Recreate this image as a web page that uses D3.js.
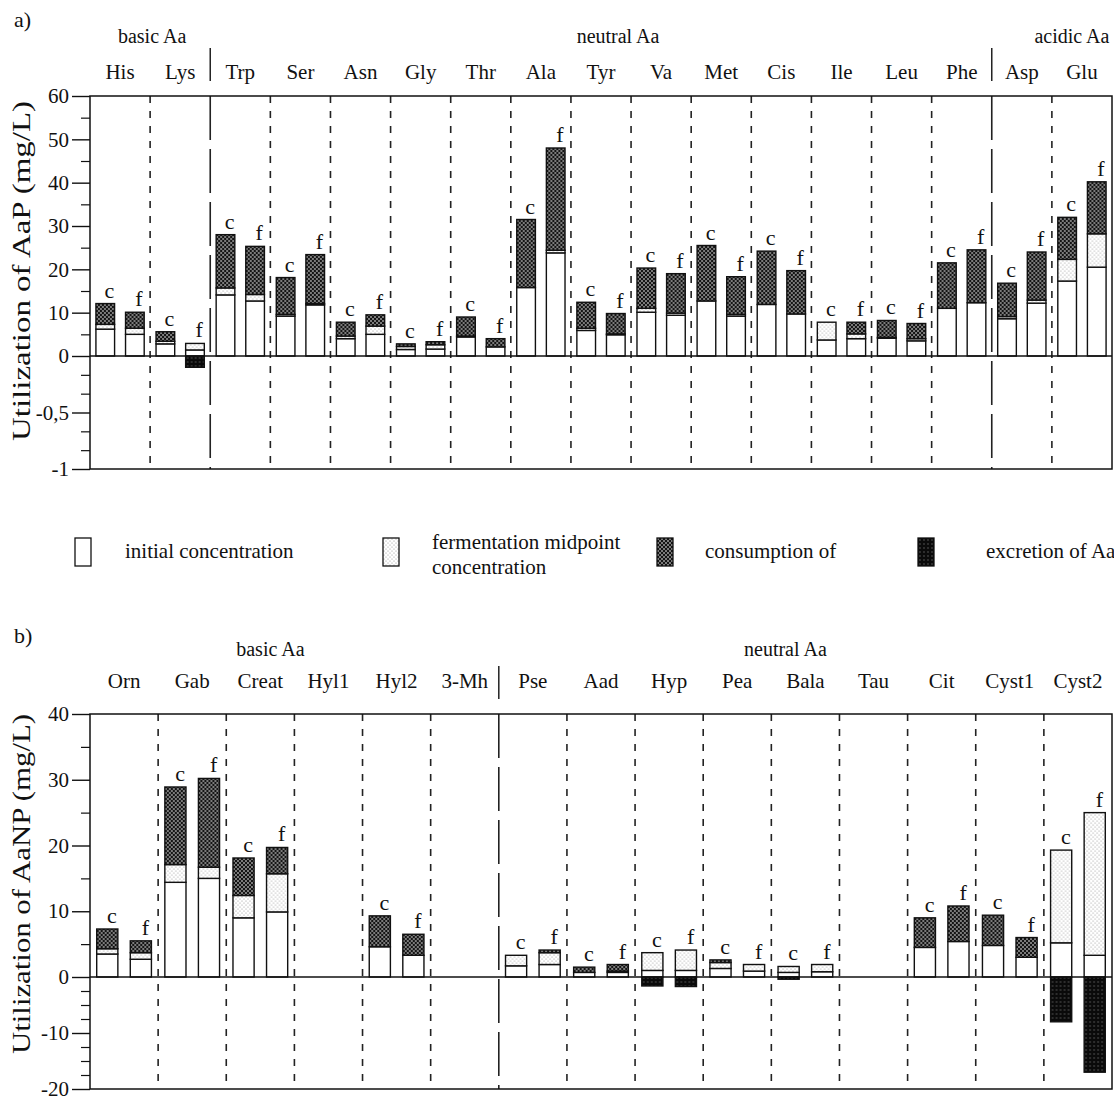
<!DOCTYPE html>
<html>
<head>
<meta charset="utf-8">
<script src="https://cdn.jsdelivr.net/npm/d3@7"></script>
<style>
body { margin:0; background:#fff; }
svg text { font-family:"Liberation Serif","Times New Roman",serif; fill:#111; }
</style>
</head>
<body>
<svg id="chart" width="1114" height="1101"></svg>
<script>
// ---------- datos panel a (pares [c, f]) ----------
var catsA = ["His","Lys","Trp","Ser","Asn","Gly","Thr","Ala","Tyr","Va","Met","Cis","Ile","Leu","Phe","Asp","Glu"];
var groupsA = ["basic Aa","neutral Aa","acidic Aa"];
var groupSizeA = [2, 13, 2];
var aInitial = [[6.2,5.0],[2.8,1.4],[14.1,12.7],[9.2,11.8],[4.0,5.0],[1.5,1.6],[4.4,2.1],[15.8,23.8],[5.9,4.9],[10.1,9.4],[12.7,9.2],[11.9,9.7],[3.7,4.0],[4.1,3.5],[11.0,12.3],[8.6,12.2],[17.3,20.5]];
var aMidpoint = [[1.1,1.4],[0.6,1.5],[1.6,1.5],[0.4,0.3],[0.6,1.9],[0.7,1.0],[0.2,0],[0,0.6],[0.5,0.2],[0.9,0.5],[0,0.4],[0,0],[4.1,1.1],[0.2,0.5],[0,0],[0.5,0.7],[5.0,7.7]];
var aConsumption = [[4.8,3.7],[2.2,0],[12.3,11.1],[8.5,11.3],[3.2,2.6],[0.6,0.7],[4.4,1.9],[15.7,23.6],[6.0,4.7],[9.3,9.1],[12.8,8.7],[12.3,10.0],[0,2.7],[3.9,3.5],[10.5,12.2],[7.7,11.1],[9.7,12.0]];
var aExcretion = [[0,0],[0,-0.1],[0,0],[0,0],[0,0],[0,0],[0,0],[0,0],[0,0],[0,0],[0,0],[0,0],[0,0],[0,0],[0,0],[0,0],[0,0]];
var aMajorTicks = [-1,-0.5,0,10,20,30,40,50,60];
var aMinorTicks = [-5/6,-4/6,-2/6,-1/6,5,15,25,35,45,55];

// ---------- datos panel b ----------
var catsB = ["Orn","Gab","Creat","Hyl1","Hyl2","3-Mh","Pse","Aad","Hyp","Pea","Bala","Tau","Cit","Cyst1","Cyst2"];
var groupsB = ["basic Aa","neutral Aa"];
var groupSizeB = [6, 9];
var bInitial = [[3.5,2.7],[14.4,15.0],[9.0,9.9],[0,0],[4.6,3.3],[0,0],[1.7,1.9],[0.7,0.7],[1.0,1.0],[1.3,0.9],[0.7,0.8],[0,0],[4.5,5.4],[4.8,3.0],[5.2,3.3]];
var bMidpoint = [[0.8,1.0],[2.7,1.7],[3.4,5.8],[0,0],[0,0],[0,0],[1.6,1.8],[0,0.2],[2.7,3.1],[0.9,1.0],[0.9,1.1],[0,0],[0,0],[0,0],[14.1,21.7]];
var bConsumption = [[3.0,1.8],[11.8,13.5],[5.7,4.0],[0,0],[4.7,3.2],[0,0],[0,0.4],[0.8,1.0],[0,0],[0.4,0],[0,0],[0,0],[4.5,5.4],[4.6,3.0],[0,0]];
var bExcretion = [[0,0],[0,0],[0,0],[0,0],[0,0],[0,0],[0,0],[0,0],[-1.6,-1.7],[0,0],[-0.4,0],[0,0],[0,0],[0,0],[-8.0,-17.0]];
var bMajorTicks = [-20,-10,0,10,20,30,40];
var bMinorTicks = [-17.5,-15,-12.5,-7.5,-5,-2.5,5,15,25,35];

var legendLabels = [["initial concentration"],["fermentation midpoint","concentration"],["consumption of"],["excretion of Aa"]];

var svg = d3.select("#chart");
var defs = svg.append("defs");

/******** patrones de relleno ********/
function pattern(id, bg, dots, r, col) {
  var p = defs.append("pattern").attr("id", id)
    .attr("patternUnits", "userSpaceOnUse").attr("width", 4).attr("height", 4);
  p.append("rect").attr("width", 4).attr("height", 4).attr("fill", bg);
  dots.forEach(function(d) {
    p.append("circle").attr("cx", d[0]).attr("cy", d[1]).attr("r", r).attr("fill", col);
  });
}
pattern("dots", "#fff", [[1,1],[3,3]], 0.55, "#8c8c8c");
pattern("hatch", "#141414", [[1,1],[3,3]], 0.8, "#fff");
pattern("excr", "#0a0a0a", [[2,2]], 0.7, "#6a6a6a");
var fills = ["#fff", "url(#dots)", "url(#hatch)", "url(#excr)"];

var left = 90, right = 1112;

function fmt(d) { return String(d).replace(".", ","); }

/******** dibujar un panel ********/
function drawPanel(p) {
  var g = svg.append("g");
  var x = d3.scaleBand().domain(p.cats).range([left, right]);
  var sub = d3.scaleBand().domain(["c","f"]).range([0, x.bandwidth()])
    .paddingInner(0.37).paddingOuter(0.2);
  var y = d3.scaleLinear().domain(p.yDomain).range(p.yRange);
  var top = y(p.yDomain[2]), bot = y(p.yDomain[0]), zero = y(0);

  // lineas divisorias
  var seps = [];
  var acc = 0;
  p.groupSize.forEach(function(n, i) {
    acc += n;
    if (i < p.groupSize.length - 1) seps.push(acc);
  });
  for (var i = 1; i < p.cats.length; i++) {
    var xx = x(p.cats[i]);
    var isSep = seps.indexOf(i) >= 0;
    g.append("line").attr("x1", xx).attr("x2", xx).attr("y1", top).attr("y2", bot)
      .attr("stroke", "#222").attr("stroke-width", 1.6)
      .attr("stroke-dasharray", isSep ? "44,9" : "7,8");
    if (isSep) {
      g.append("line").attr("x1", xx).attr("x2", xx).attr("y1", top - 48).attr("y2", top - 15)
        .attr("stroke", "#222").attr("stroke-width", 1.5);
    }
  }

  // barras
  var bars = [];
  p.cats.forEach(function(cat, i) {
    ["c","f"].forEach(function(k, j) {
      var a = p.init[i][j], m = p.mid[i][j], c = p.cons[i][j], e = p.exc[i][j];
      bars.push({cat: cat, k: k, total: a + m + c,
        segs: [[0, a], [a, a + m], [a + m, a + m + c], [e, 0]]});
    });
  });

  var bar = g.selectAll(".bar").data(bars).enter().append("g").attr("class", "bar")
    .attr("transform", function(d) { return "translate(" + (x(d.cat) + sub(d.k)) + ",0)"; });

  bar.selectAll("rect")
    .data(function(d) { return d.segs.map(function(s, i) { return {y0: s[0], y1: s[1], i: i}; })
      .filter(function(s) { return s.y1 - s.y0 > 0; }); })
    .enter().append("rect")
    .attr("x", 0)
    .attr("width", sub.bandwidth())
    .attr("y", function(s) { return y(s.y1); })
    .attr("height", function(s) { return y(s.y0) - y(s.y1); })
    .attr("fill", function(s) { return fills[s.i]; })
    .attr("stroke", "#111").attr("stroke-width", 1.4);

  bar.filter(function(d) { return d.total > 0; }).append("text")
    .attr("x", sub.bandwidth() * 0.72)
    .attr("y", function(d) { return y(d.total) - 6; })
    .attr("text-anchor", "middle")
    .style("font-size", "22px")
    .text(function(d) { return d.k; });

  // marco y linea cero
  g.append("rect").attr("x", left).attr("y", top).attr("width", right - left).attr("height", bot - top)
    .attr("fill", "none").attr("stroke", "#111").attr("stroke-width", 1.5);
  g.append("line").attr("x1", left).attr("x2", right).attr("y1", zero).attr("y2", zero)
    .attr("stroke", "#111").attr("stroke-width", 1.5);

  // ejes
  var ax = g.append("g").attr("transform", "translate(" + left + ",0)")
    .call(d3.axisLeft(y).tickValues(p.major).tickSize(18).tickPadding(3).tickFormat(fmt));
  ax.select(".domain").remove();
  ax.selectAll("line").attr("stroke", "#111").attr("stroke-width", 1.4);
  ax.selectAll("text").style("font-size", "21px").style("font-family", "Liberation Serif").attr("fill", "#111");

  var mx = g.append("g").attr("transform", "translate(" + left + ",0)")
    .call(d3.axisLeft(y).tickValues(p.minor).tickSize(9).tickFormat(""));
  mx.select(".domain").remove();
  mx.selectAll("line").attr("stroke", "#111").attr("stroke-width", 1.2);

  // etiquetas de categorias
  g.selectAll(".cat").data(p.cats).enter().append("text")
    .attr("x", function(d) { return x(d) + x.bandwidth() / 2; })
    .attr("y", p.catY)
    .attr("text-anchor", "middle")
    .style("font-size", "21px")
    .text(function(d) { return d; });

  // etiquetas de grupo
  var start = 0;
  p.groups.forEach(function(name, i) {
    var n = p.groupSize[i];
    var x0 = x(p.cats[start]), x1 = x(p.cats[start + n - 1]) + x.bandwidth();
    g.append("text").attr("x", (x0 + x1) / 2 + p.groupDx[i]).attr("y", p.groupY)
      .attr("text-anchor", "middle").style("font-size", "20px").text(name);
    start += n;
  });

  // titulo eje y
  g.append("text")
    .attr("transform", "translate(30," + p.titleY + ") rotate(-90)")
    .attr("text-anchor", "middle")
    .attr("textLength", 340).attr("lengthAdjust", "spacingAndGlyphs")
    .style("font-size", "26px")
    .text(p.title);

  g.append("text").attr("x", 14).attr("y", p.letterY).style("font-size", "22px").text(p.letter);
}

drawPanel({cats: catsA, groups: groupsA, groupSize: groupSizeA, groupDx: [2, 17, 20],
  init: aInitial, mid: aMidpoint, cons: aConsumption, exc: aExcretion,
  yDomain: [-1, 0, 60], yRange: [469, 356, 96],
  major: aMajorTicks, minor: aMinorTicks,
  catY: 79, groupY: 43, titleY: 271, letterY: 27,
  title: "Utilization of AaP (mg/L)", letter: "a)"});

drawPanel({cats: catsB, groups: groupsB, groupSize: groupSizeB, groupDx: [-24, -20],
  init: bInitial, mid: bMidpoint, cons: bConsumption, exc: bExcretion,
  yDomain: [-20, 0, 40], yRange: [1089, 977, 714],
  major: bMajorTicks, minor: bMinorTicks,
  catY: 688, groupY: 656, titleY: 884, letterY: 643,
  title: "Utilization of AaNP (mg/L)", letter: "b)"});

/******** leyenda ********/
var legX = [75, 383, 657, 918];
var legTextDx = [50, 49, 48, 68];
var leg = svg.append("g").selectAll(".legend").data(legendLabels).enter().append("g")
  .attr("class", "legend")
  .attr("transform", function(d, i) { return "translate(" + legX[i] + ",538)"; });
leg.append("rect").attr("width", 16).attr("height", 28)
  .attr("fill", function(d, i) { return fills[i]; })
  .attr("stroke", "#111").attr("stroke-width", 1.3);
leg.append("text")
  .attr("x", function(d, i) { return legTextDx[i]; })
  .attr("y", function(d) { return d.length > 1 ? 11 : 20; })
  .style("font-size", "21px")
  .selectAll("tspan").data(function(d) { return d; }).enter().append("tspan")
  .attr("x", function(d, i, n) { return d3.select(n[i].parentNode).attr("x"); })
  .attr("dy", function(d, i) { return i ? 25 : 0; })
  .text(function(d) { return d; });
</script>
</body>
</html>
